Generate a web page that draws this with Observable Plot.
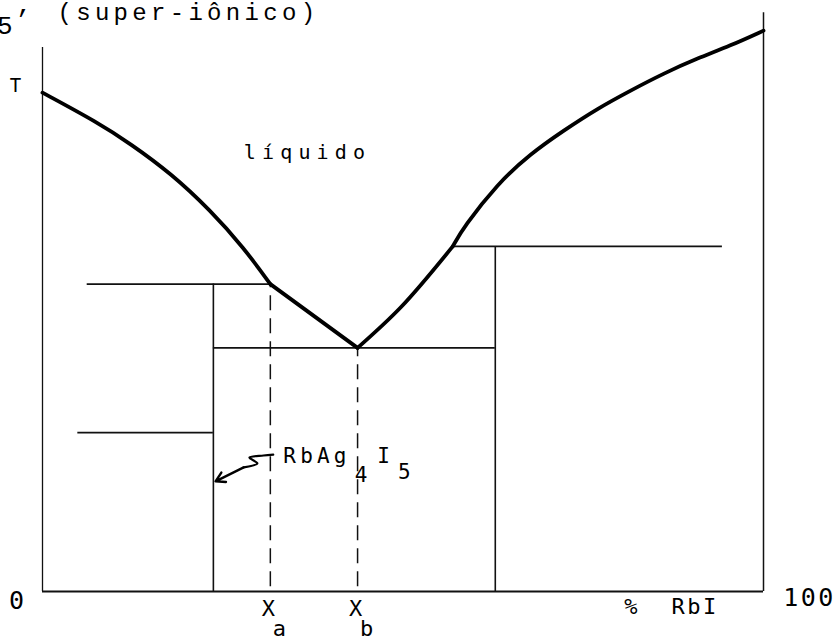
<!DOCTYPE html>
<html>
<head>
<meta charset="utf-8">
<script src="https://cdn.jsdelivr.net/npm/d3@7"></script>
<script src="https://cdn.jsdelivr.net/npm/@observablehq/plot@0.6"></script>
<style>
  html, body { margin: 0; padding: 0; background: #fff; }
  svg { display: block; }
  g[aria-description="heading"] text { letter-spacing: 4.3px; }
  g[aria-description="region"] text { letter-spacing: 6.2px; }
  g[aria-description="compound"] text { letter-spacing: 4.2px; }
  g[aria-description="scale-end"] text { letter-spacing: 2.5px; }
  g[aria-description="axis-title"] text { letter-spacing: 2.5px; }
</style>
</head>
<body>
<div id="chart"></div>
<script>
// AgI–RbI phase diagram (schematic): composition in % RbI, temperature in arbitrary units.

// Liquidus branches [composition, temperature]
const liquidusAgI = [[0, 86], [7.6, 80.9], [12.2, 77.2], [17.8, 72.1], [23.3, 65.7], [27.9, 59.3], [31.6, 53]];
const liquidusMid = [[31.6, 53], [43.7, 42]];
const liquidusLow = [[43.7, 42], [49.7, 49], [56.9, 59.5]];
const liquidusRbI = [[56.9, 59.5], [58.4, 62.8], [63.1, 70.3], [67.7, 75.5], [72.3, 79.5], [77.0, 83.3],
                     [81.6, 86.4], [86.1, 89.3], [90.8, 91.9], [95.4, 94.1], [100, 96.7]];

// Invariant (horizontal) lines
const invariants = [
  {x1: 6.2,  x2: 31.6, t: 53},
  {x1: 23.7, x2: 62.8, t: 42},
  {x1: 56.9, x2: 94.3, t: 59.5},
  {x1: 4.9,  x2: 23.7, t: 27.4}
];

// Compound lines (vertical)
const compounds = [
  {x: 23.7, t: 53},
  {x: 62.8, t: 59.5}
];

// Characteristic compositions Xa, Xb
const compositions = [
  {x: 31.6, t: 53, name: "X", sub: "a"},
  {x: 43.7, t: 42, name: "X", sub: "b"}
];

// Break-line pointer to the RbAg4I5 compound line
const squiggle = [[32.0, 23.6], [30.65, 23.45], [28.7, 23.1], [29.8, 22.1], [27.9, 21.4]];
const pointer  = [{x1: 27.9, y1: 21.4, x2: 24.0, y2: 19.0}];

// Frame extents
const leftAxisTop = 93.8;
const rightAxisTop = 99.8;

const toRows = (pts, s) => pts.map(d => ({x: d[0], t: d[1], s}));
const curvedBranches = [...toRows(liquidusAgI, "a"), ...toRows(liquidusRbI, "r")];
const straightBranches = [...toRows(liquidusMid, "m"), ...toRows(liquidusLow, "l")];

const mono = "'DejaVu Sans Mono', monospace";
const typew = "'Liberation Mono', 'DejaVu Sans Mono', monospace";

const chart = Plot.plot({
  width: 837,
  height: 642,
  marginLeft: 42,
  marginRight: 74,
  marginTop: 11,
  marginBottom: 51,
  x: {domain: [0, 100], axis: null},
  y: {domain: [0, 100], axis: null},
  style: {background: "#fff", overflow: "visible"},
  marks: [
    // frame
    Plot.ruleX([{x: 0, t: leftAxisTop}], {x: "x", y1: 0, y2: "t", stroke: "#111", strokeWidth: 1.3}),
    Plot.ruleX([{x: 100, t: rightAxisTop}], {x: "x", y1: 0, y2: "t", stroke: "#111", strokeWidth: 1.5}),
    Plot.ruleY([0], {x1: 0, x2: 100, stroke: "#111", strokeWidth: 2.2}),

    // invariant lines and compound lines
    Plot.ruleY(invariants, {y: "t", x1: "x1", x2: "x2", stroke: "#111", strokeWidth: 1.8}),
    Plot.ruleX(compounds, {x: "x", y1: 0, y2: "t", stroke: "#111", strokeWidth: 1.6}),
    Plot.ruleX(compositions, {x: "x", y1: 0.8, y2: "t", stroke: "#111", strokeWidth: 1.5, strokeDasharray: "15,8"}),

    // liquidus
    Plot.line(curvedBranches, {x: "x", y: "t", z: "s", curve: "basis", stroke: "#000", strokeWidth: 3.8, strokeLinejoin: "round"}),
    Plot.line(straightBranches, {x: "x", y: "t", z: "s", curve: "monotone-x", stroke: "#000", strokeWidth: 3.8, strokeLinejoin: "round"}),

    // pointer
    Plot.line(squiggle, {x: d => d[0], y: d => d[1], curve: "catmull-rom", stroke: "#000", strokeWidth: 2.2}),
    Plot.arrow(pointer, {x1: "x1", y1: "y1", x2: "x2", y2: "y2", stroke: "#000", strokeWidth: 2.4, headLength: 9}),

    // labels
    Plot.text(["líquido"], {frameAnchor: "top-left", dx: 265, dy: 141, text: d => d, fontFamily: mono, fontSize: 20, textAnchor: "middle", lineAnchor: "middle", fill: "#000", ariaDescription: "region"}),
    Plot.text(["RbAg"], {x: 33.4, y: 23.4, text: d => d, fontFamily: mono, fontSize: 21, textAnchor: "start", fill: "#000", ariaDescription: "compound"}),
    Plot.text(["4"], {x: 44.2, y: 20.0, text: d => d, fontFamily: mono, fontSize: 21, textAnchor: "middle", fill: "#000"}),
    Plot.text(["I"], {x: 47.3, y: 23.4, text: d => d, fontFamily: mono, fontSize: 21, textAnchor: "middle", fill: "#000"}),
    Plot.text(["5"], {x: 50.2, y: 20.5, text: d => d, fontFamily: mono, fontSize: 21, textAnchor: "middle", fill: "#000"}),

    Plot.text(["T"], {x: 0, y: 87.2, dx: -27, text: d => d, fontFamily: mono, fontSize: 19, fill: "#000"}),
    Plot.text(["0"], {x: 0, y: 0, dx: -26, dy: 9, text: d => d, fontFamily: mono, fontSize: 25, fill: "#000"}),
    Plot.text(["100"], {x: 100, y: 0, dx: 46, dy: 6, text: d => d, fontFamily: mono, fontSize: 25, fill: "#000", ariaDescription: "scale-end"}),
    Plot.text(compositions, {x: "x", y: 0, dx: -2, dy: 17, text: "name", fontFamily: mono, fontSize: 22, fill: "#000"}),
    Plot.text(compositions, {x: "x", y: 0, dx: 9, dy: 37, text: "sub", fontFamily: mono, fontSize: 22, fill: "#000"}),
    Plot.text(["%  RbI"], {x: 100, y: 0, dx: -92, dy: 15, text: d => d, fontFamily: mono, fontSize: 22, textAnchor: "middle", fill: "#000", ariaDescription: "axis-title"}),

    // heading fragment at the top edge
    Plot.text(["(super-iônico)"], {frameAnchor: "top-left", dx: 15, dy: -9, text: d => d, fontFamily: typew, fontSize: 24, textAnchor: "start", lineAnchor: "top", fill: "#000", ariaDescription: "heading"}),
    Plot.text(["5"], {frameAnchor: "top-left", dx: -30, dy: 14, text: d => d, fontFamily: typew, fontSize: 26, textAnchor: "end", lineAnchor: "middle", fill: "#000"}),
    Plot.text(["’"], {frameAnchor: "top-left", dx: -20, dy: 8, text: d => d, fontFamily: typew, fontSize: 26, textAnchor: "middle", lineAnchor: "middle", fill: "#000"})
  ]
});

document.getElementById("chart").appendChild(chart);
</script>
</body>
</html>
